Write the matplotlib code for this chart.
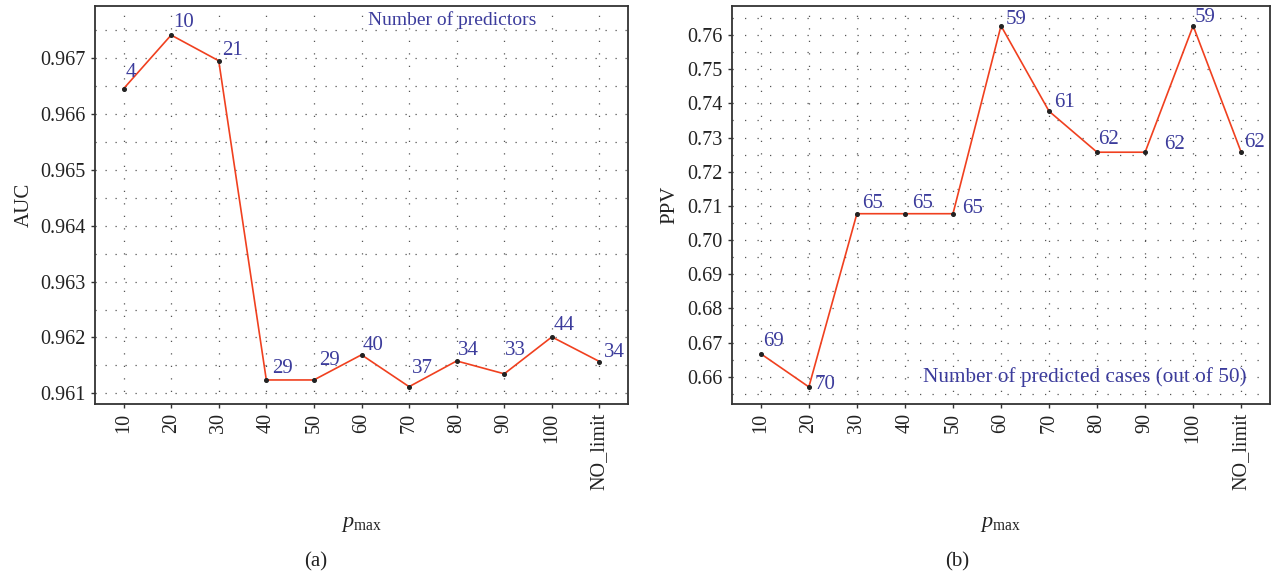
import matplotlib
matplotlib.use("Agg")
import matplotlib.pyplot as plt
from matplotlib.ticker import MultipleLocator, FormatStrFormatter

plt.rcParams['font.family'] = ['Liberation Serif', 'DejaVu Serif']
plt.rcParams['mathtext.fontset'] = 'custom'
plt.rcParams['mathtext.rm'] = 'Liberation Serif'
plt.rcParams['mathtext.it'] = 'Liberation Serif:italic'

categories = ["10", "20", "30", "40", "50", "60", "70", "80", "90", "100", "NO_limit"]

auc_values = [0.96645, 0.96741, 0.96695, 0.96124, 0.96124, 0.96169,
              0.96112, 0.96158, 0.96135, 0.96201, 0.96157]
auc_labels = ["4", "10", "21", "29", "29", "40", "37", "34", "33", "44", "34"]

ppv_values = [0.6667, 0.6570, 0.7077, 0.7077, 0.7077, 0.7627,
              0.7377, 0.7257, 0.7257, 0.7627, 0.7257]
ppv_labels = ["69", "70", "65", "65", "65", "59", "61", "62", "62", "59", "62"]

# label offsets (pixels) relative to each point
auc_offsets = [(2, 12), (2, 8), (3, 6), (6, 7), (5, 15), (1, 5), (3, 14),
               (1, 6), (1, 19), (2, 7), (4, 5)]
ppv_offsets = [(2, 8), (6, -2), (5, 6), (7, 6), (9, 1), (5, 2), (5, 4),
               (1, 8), (19, 3), (2, 4), (3, 5)]

LINE = '#f0401f'
BLUE = '#3c3c9c'
GRID = '#555555'
SPINE = '#333333'
TXT = '#222222'
FS_TICK = 14.5
FS_ANN = 15

fig = plt.figure(figsize=(12.72, 5.75), dpi=100)
ax1 = fig.add_axes([95/1272, 171/575, 533/1272, 398/575])
ax2 = fig.add_axes([732/1272, 171/575, 538/1272, 398/575])

x = list(range(len(categories)))


def style(ax, ylim, major, minor, hdash):
    ax.set_xlim(-0.6, len(categories) - 0.4)
    ax.set_ylim(*ylim)
    ax.yaxis.set_major_locator(MultipleLocator(major))
    ax.yaxis.set_minor_locator(MultipleLocator(minor))
    ax.set_xticks(x)
    ax.set_xticklabels(categories, rotation=90, fontsize=FS_TICK, color=TXT)
    ax.tick_params(axis='y', which='major', labelsize=FS_TICK, labelcolor=TXT,
                   length=3, width=1, color=SPINE, direction='out')
    ax.tick_params(axis='y', which='minor', length=0)
    ax.tick_params(axis='x', length=3, width=1, color=SPINE, direction='out')
    for s in ax.spines.values():
        s.set_color(SPINE)
        s.set_linewidth(1.3)
    ax.grid(True, which='major', axis='x', color=GRID, linestyle=(0, (1, 9)),
            linewidth=0.9)
    ax.grid(True, which='both', axis='y', color=GRID, linestyle=(0, (1, hdash)),
            linewidth=0.9)
    ax.set_axisbelow(True)
    ax.set_xlabel(r'$p_{\mathrm{max}}$', fontsize=FS_TICK + 1.5, labelpad=18, color=TXT)


def draw(ax, vals, labels, offsets):
    ax.plot(x, vals, color=LINE, linewidth=1.2, zorder=3)
    ax.plot(x, vals, linestyle='none', marker='o', markersize=2.6,
            color=TXT, zorder=4)
    for xi, v, lab, (dx, dy) in zip(x, vals, labels, offsets):
        ax.annotate(lab, (xi, v), xytext=(dx, dy), textcoords='offset pixels',
                    ha='left', va='baseline', color=BLUE, fontsize=FS_ANN, zorder=5)


style(ax1, (0.96081, 0.96793), 0.001, 0.0005, 7)
style(ax2, (0.6520, 0.7685), 0.01, 0.005, 9)
ax1.yaxis.set_major_formatter(FormatStrFormatter('%.3f'))
ax2.yaxis.set_major_formatter(FormatStrFormatter('%.2f'))

draw(ax1, auc_values, auc_labels, auc_offsets)
draw(ax2, ppv_values, ppv_labels, ppv_offsets)

ax1.set_ylabel('AUC', fontsize=FS_TICK + 0.5, color=TXT, labelpad=5)
ax2.set_ylabel('PPV', fontsize=FS_TICK + 0.5, color=TXT, labelpad=6)

ax1.text(0.67, 0.965, 'Number of predictors', transform=ax1.transAxes,
         ha='center', va='center', color=BLUE, fontsize=FS_ANN - 1)
ax2.text(0.957, 0.068, 'Number of predicted cases (out of 50)', transform=ax2.transAxes,
         ha='right', va='center', color=BLUE, fontsize=FS_ANN + 0.3)

fig.text(316/1272, 1 - 562/575, '(a)', ha='center', va='center',
         fontsize=15, color=TXT)
fig.text(957/1272, 1 - 562/575, '(b)', ha='center', va='center',
         fontsize=15, color=TXT)

fig.savefig('out.png', dpi=100)
